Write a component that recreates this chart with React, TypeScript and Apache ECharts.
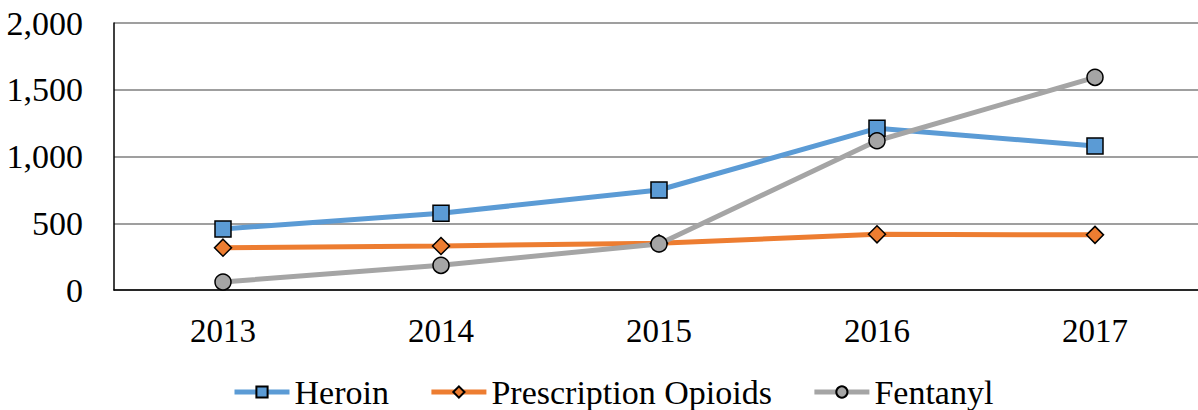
import React, { useEffect, useRef } from "react";
import * as echarts from "echarts";

const years = ["2013", "2014", "2015", "2016", "2017"];
const heroin = [457, 575, 749, 1211, 1079];
const prescription = [317, 330, 350, 417, 413];
const fentanyl = [60, 185, 345, 1118, 1593];
const yTicks = { min: 0, max: 2000, interval: 500 };

const FONT = "Liberation Serif";

export default function App() {
  const ref = useRef<HTMLDivElement>(null);
  useEffect(() => {
    document.body.style.margin = "0";
    const chart = echarts.init(ref.current!, null, { renderer: "svg" });
    const mk = (name: string, data: number[], color: string, symbol: string, size: number) => ({
      name,
      type: "line",
      data,
      symbol,
      symbolSize: size,
      showAllSymbol: true,
      lineStyle: { color, width: 5 },
      itemStyle: { color, borderColor: "#000", borderWidth: 1.5 },
      emphasis: { disabled: true },
    });
    chart.setOption({
      animation: false,
      textStyle: { fontFamily: FONT },
      grid: {
        left: 114,
        top: 23,
        width: 1090,
        height: 267,
        containLabel: false,
        outerBoundsMode: "none",
      },
      legend: {
        top: 375,
        left: 232,
        padding: 0,
        itemWidth: 55,
        itemHeight: 14,
        itemGap: 40,
        lineStyle: { width: 5 },
        textStyle: { fontFamily: FONT, fontSize: 34, color: "#000" },
        data: ["Heroin", "Prescription Opioids", "Fentanyl"],
      },
      xAxis: {
        type: "category",
        data: years,
        boundaryGap: true,
        axisLine: { show: true, lineStyle: { color: "#000", width: 1.5 } },
        axisTick: { show: false },
        axisLabel: { color: "#000", fontSize: 33, fontFamily: FONT, margin: 24 },
        splitLine: { show: false },
      },
      yAxis: {
        type: "value",
        min: yTicks.min,
        max: yTicks.max,
        interval: yTicks.interval,
        axisLine: { show: true, lineStyle: { color: "#000", width: 1.5 } },
        axisTick: { show: false },
        axisLabel: {
          color: "#000",
          fontSize: 34,
          fontFamily: FONT,
          margin: 31,
          formatter: (v: number) => v.toLocaleString("en-US"),
        },
        splitLine: { show: true, lineStyle: { color: "#7f7f7f", width: 1.5 } },
      },
      series: [
        mk("Heroin", heroin, "#5b9bd5", "rect", 16),
        mk("Prescription Opioids", prescription, "#ed7d31", "diamond", 17),
        mk("Fentanyl", fentanyl, "#a5a5a5", "circle", 16),
      ],
    });
    return () => chart.dispose();
  }, []);
  return <div ref={ref} style={{ width: 1198, height: 410 }} />;
}
